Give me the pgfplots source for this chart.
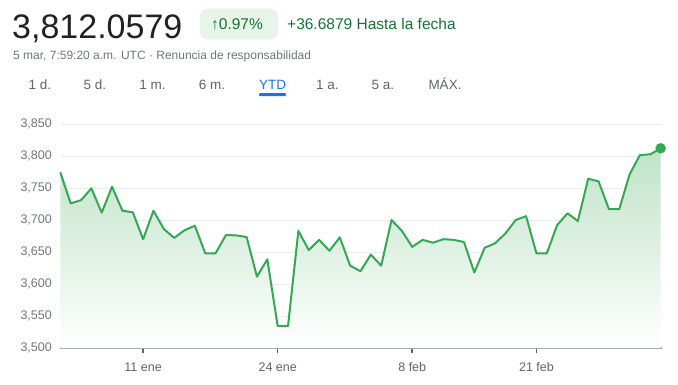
\documentclass[border=0pt]{standalone}
\usepackage{fontspec}
\setmainfont{Liberation Sans}
\usepackage{pgfplots}
\usepackage{pgfplotstable}
\pgfplotsset{compat=1.18}
\definecolor{gline}{HTML}{34A853}
\definecolor{gfill}{HTML}{BFE3C8}
\definecolor{gdark}{HTML}{202124}
\definecolor{ggreen}{HTML}{137333}
\definecolor{gbadge}{HTML}{E6F4EA}
\definecolor{ggray}{HTML}{70757A}
\definecolor{gtab}{HTML}{5F6368}
\definecolor{gblue}{HTML}{1A73E8}
\definecolor{ggrid}{HTML}{ECECEC}
\definecolor{gaxis}{HTML}{9AA0A6}

\pgfplotstableread{
i v
0 3774.5
1 3726.0
2 3731.0
3 3749.5
4 3711.4
5 3752.0
6 3714.5
7 3712.0
8 3670.0
9 3714.5
10 3686.0
11 3672.0
12 3684.0
13 3691.0
14 3648.0
15 3648.0
16 3676.5
17 3676.0
18 3673.4
19 3611.5
20 3638.6
21 3534.4
22 3534.4
23 3683.0
24 3653.0
25 3669.0
26 3652.0
27 3673.0
28 3628.6
29 3620.0
30 3646.0
31 3628.6
32 3700.0
33 3683.0
34 3658.0
35 3669.0
36 3664.6
37 3670.0
38 3669.0
39 3665.6
40 3618.0
41 3656.7
42 3663.6
43 3679.0
44 3700.0
45 3706.0
46 3648.0
47 3648.0
48 3692.0
49 3710.5
50 3698.4
51 3764.5
52 3760.4
53 3717.0
54 3717.0
55 3771.4
56 3801.5
57 3802.6
58 3812.06
}\pricedata

\pgfplotstableread{
i v
0 3500
0 3774.5
1 3726.0
2 3731.0
3 3749.5
4 3711.4
5 3752.0
6 3714.5
7 3712.0
8 3670.0
9 3714.5
10 3686.0
11 3672.0
12 3684.0
13 3691.0
14 3648.0
15 3648.0
16 3676.5
17 3676.0
18 3673.4
19 3611.5
20 3638.6
21 3534.4
22 3534.4
23 3683.0
24 3653.0
25 3669.0
26 3652.0
27 3673.0
28 3628.6
29 3620.0
30 3646.0
31 3628.6
32 3700.0
33 3683.0
34 3658.0
35 3669.0
36 3664.6
37 3670.0
38 3669.0
39 3665.6
40 3618.0
41 3656.7
42 3663.6
43 3679.0
44 3700.0
45 3706.0
46 3648.0
47 3648.0
48 3692.0
49 3710.5
50 3698.4
51 3764.5
52 3760.4
53 3717.0
54 3717.0
55 3771.4
56 3801.5
57 3802.6
58 3812.06
58 3500
}\filldata

\begin{document}
\begin{tikzpicture}[x=1pt,y=1pt]
\path[use as bounding box] (0pt,0pt) rectangle (678pt,-384pt);
% header
\node[anchor=base west, inner sep=0, text=gdark, font=\fontsize{34}{40}\selectfont] at (12pt,-38pt) {3,812.0579};
\fill[gbadge, rounded corners=8pt] (200pt,-8.5pt) rectangle (278pt,-39.5pt);
\node[anchor=base west, inner sep=0, text=ggreen, font=\fontsize{15.5}{18}\selectfont] at (211pt,-29.3pt) {↑0.97\%};
\node[anchor=base west, inner sep=0, text=ggreen, font=\fontsize{15.5}{18}\selectfont] at (287pt,-29.3pt) {+36.6879 Hasta la fecha};
\node[anchor=base west, inner sep=0, text=ggray, font=\fontsize{12}{14}\selectfont] at (13pt,-59.3pt) {5 mar, 7:59:20 a.m. UTC · Renuncia de responsabilidad};
% tabs
\foreach \xx/\lab in {40/1 d., 95/5 d., 152.5/1 m., 212/6 m., 327.5/1 a., 383/5 a., 445/MÁX.}{
  \node[anchor=base, inner sep=0, text=gtab, font=\fontsize{13.5}{16}\selectfont] at (\xx pt,-89.3pt) {\lab};
}
\node[anchor=base, inner sep=0, text=gblue, font=\fontsize{13.5}{16}\selectfont] at (272.5pt,-89.3pt) {YTD};
\fill[gblue, rounded corners=1pt] (259pt,-93pt) rectangle (286pt,-96pt);
\begin{axis}[
  at={(60pt,-348pt)}, anchor=south west,
  scale only axis, width=602pt, height=224pt,
  xmin=-0.03, xmax=58.13, ymin=3500, ymax=3850,
  axis x line*=bottom, axis y line*=left,
  x axis line style={draw=gaxis, line width=1.2pt},
  y axis line style={draw=none},
  ytick={3500,3550,...,3850},
  ymajorgrids, grid style={draw=ggrid, line width=0.8pt},
  ytick style={draw=none},
  xtick={8,21,34,46},
  xticklabels={11 ene,24 ene,8 feb,21 feb},
  xtick style={draw=gtab, line width=1.5pt},
  tick align=outside, major tick length=5pt,
  /pgf/number format/.cd, 1000 sep={,}, assume math mode=true, /pgfplots/.cd,
  yticklabel style={font=\fontsize{12.5}{14}\selectfont, text=ggray, anchor=east, inner sep=0pt, xshift=-3pt},
  xticklabel style={font=\fontsize{12.5}{14}\selectfont, text=gtab, anchor=north, inner sep=0pt, yshift=-9.5pt},
  clip=false,
]
\addplot[draw=none, top color=gfill, bottom color=white] table[x=i, y=v] {\filldata};
\addplot[gline, line width=2pt, line join=round, mark=none] table[x=i, y=v] {\pricedata};
\addplot[only marks, mark=*, mark size=5pt, gline] coordinates {(58,3812.06)};
\end{axis}
\end{tikzpicture}
\end{document}
